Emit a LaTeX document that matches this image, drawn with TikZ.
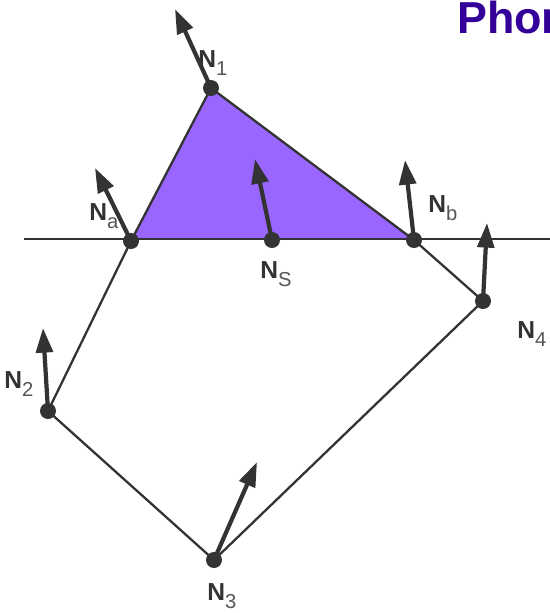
\documentclass[tikz,border=0pt]{standalone}
\usepackage{fontspec}
\setmainfont{Liberation Sans}
\usetikzlibrary{arrows.meta}

\definecolor{facet}{HTML}{9966FF}
\definecolor{titlepurple}{HTML}{330099}
\definecolor{ink}{HTML}{333333}
\definecolor{subgray}{HTML}{555555}

% label: bold N with a thin grey subscript
\newcommand{\nlbl}[1]{{\fontsize{14}{15}\selectfont\bfseries N}{\color{subgray}\raisebox{-5pt}{\fontsize{11.5}{12}\selectfont #1}}}

\tikzset{
  edge/.style={draw=ink, line width=1.3pt},
  normalarrow/.style={draw=ink, line width=2.4pt, -{Triangle[length=14pt, width=9.5pt]}},
  lbl/.style={inner sep=0pt, anchor=base west, text=ink},
}

\begin{document}
\begin{tikzpicture}[x=0.02cm, y=-0.02cm]
  \useasboundingbox (0,0) rectangle (550,613);
  \clip (0,0) rectangle (550,613);

  % polygon vertices and plane crossings
  \coordinate (n1) at (211,88);
  \coordinate (n2) at (48,411);
  \coordinate (n3) at (214,560);
  \coordinate (n4) at (483,301);
  \coordinate (na) at (131,241);
  \coordinate (nb) at (414,240);
  \coordinate (ns) at (272,240);
  \coordinate (left) at (24,239);
  \coordinate (right) at (550,239);

  % arrow tips
  \coordinate (t1) at (175,9);
  \coordinate (t2) at (43,328);
  \coordinate (t3) at (257,462);
  \coordinate (t4) at (487,223);
  \coordinate (ta) at (95,168);
  \coordinate (tb) at (405,160);
  \coordinate (ts) at (255,159);

  \fill[facet] (n1) -- (na |- left) -- (nb |- left) -- cycle;

  \draw[edge] (left) to (right);
  \draw[edge] (n1) to (na);
  \draw[edge] (na) to (n2);
  \draw[edge] (n2) to (n3);
  \draw[edge] (n3) to (n4);
  \draw[edge] (n4) to (nb);
  \draw[edge] (nb) to (n1);

  \draw[normalarrow] (n1) to (t1);
  \draw[normalarrow] (n2) to (t2);
  \draw[normalarrow] (n3) to (t3);
  \draw[normalarrow] (n4) to (t4);
  \draw[normalarrow] (na) to (ta);
  \draw[normalarrow] (nb) to (tb);
  \draw[normalarrow] (ns) to (ts);

  \foreach \p in {n1,n2,n3,n4,na,nb,ns}
    \fill[ink] (\p) circle (8);

  \node[lbl] (l1) at (198,67) {\nlbl{1}};
  \node[lbl] (l2) at (4,388) {\nlbl{2}};
  \node[lbl] (l3) at (207,600) {\nlbl{3}};
  \node[lbl] (l4) at (517,338) {\nlbl{4}};
  \node[lbl] (la) at (89,220) {\nlbl{a}};
  \node[lbl] (lb) at (428,212) {\nlbl{b}};
  \node[lbl] (ls) at (260,278) {\nlbl{S}};

  \node[inner sep=0pt, anchor=base west, text=titlepurple,
        font=\fontsize{25.5}{26}\selectfont\bfseries] (title) at (457,33) {Phon};
\end{tikzpicture}
\end{document}
